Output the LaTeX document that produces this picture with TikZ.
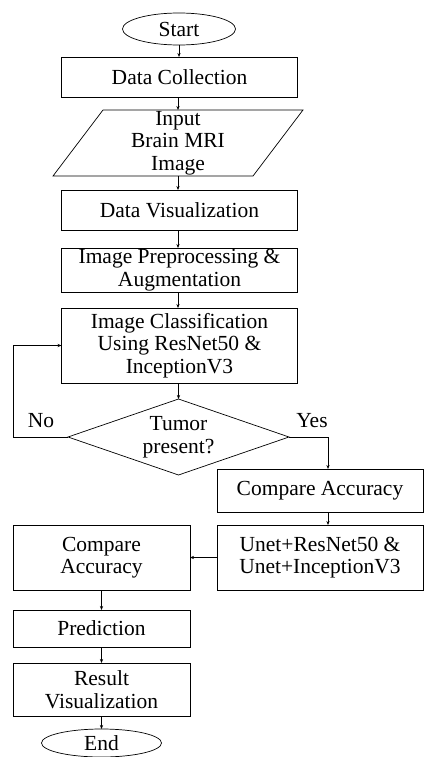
\documentclass[tikz,border=0pt]{standalone}
\usepackage{fontspec}
\setmainfont{Liberation Serif}
\usetikzlibrary{arrows.meta,shapes.geometric}
\begin{document}
\begin{tikzpicture}[x=1pt,y=-1pt,
  font=\fontsize{21.5}{22.5}\selectfont,
  every node/.style={inner sep=0pt,outer sep=0pt,align=center},
  box/.style={draw,line width=0.7pt,rectangle},
  oval/.style={draw,line width=0.7pt,ellipse},
  decision/.style={draw,line width=0.7pt,diamond,aspect=2.9},
  arr/.style={line width=0.7pt,-{Stealth[length=4pt,width=3.2pt]}},
  lbl/.style={}]
\useasboundingbox (0,0) rectangle (428,757);
% main column
\node[oval,minimum width=113,minimum height=32] (start) at (179,29) {Start};
\node[box,minimum width=236,minimum height=40] (dc) at (179.5,77) {Data Collection};
\node[minimum width=200,minimum height=66] (inp) at (178,143) {Input\\Brain MRI\\Image};
\draw[line width=0.7pt] ([xshift=25pt]inp.north west) -- ([xshift=25pt]inp.north east)
  -- ([xshift=-25pt]inp.south east) -- ([xshift=-25pt]inp.south west) -- cycle;
\node[box,minimum width=236,minimum height=40] (dv) at (179.5,210) {Data Visualization};
\node[box,minimum width=236,minimum height=44] (pre) at (179.5,270) {Image Preprocessing \&\\Augmentation};
\node[box,minimum width=236,minimum height=75] (cls) at (179.5,345.5) {Image Classification\\Using ResNet50 \&\\InceptionV3};
\node[draw,line width=0.7pt,
  shape=diamond,minimum width=221,minimum height=76,aspect=2.9] (dia) at (178.5,437) {};
\node at (178.5,437) {Tumor\\present?};
% right branch
\node[box,minimum width=206,minimum height=43] (cmp1) at (320,490.5) {Compare Accuracy};
\node[box,minimum width=206,minimum height=65] (unet) at (320,557.5) {Unet+ResNet50 \&\\Unet+InceptionV3};
% left column bottom
\node[box,minimum width=177,minimum height=65] (cmp2) at (101.5,557.5) {Compare\\Accuracy};
\node[box,minimum width=177,minimum height=37] (pred) at (101.5,628.5) {Prediction};
\node[box,minimum width=177,minimum height=53] (res) at (101.5,689.5) {Result\\Visualization};
\node[oval,minimum width=120,minimum height=28] (end) at (101.5,743) {End};
% labels
\node[lbl] (no) at (41,421) {No};
\node[lbl] (yes) at (312,421) {Yes};
\coordinate (fb) at (13,437);
% connectors
\draw[arr] (start) -- (start |- dc.north);
\draw[arr] (dc) -- (dc.south -| inp.north) -- (inp.north);
\draw[arr] (inp.south) -- (inp.south |- dv.north);
\draw[arr] (dv.south -| inp.south) -- (inp.south |- pre.north);
\draw[arr] (pre.south -| inp.south) -- (inp.south |- cls.north);
\draw[arr] (cls.south -| dia.north) -- (dia.north);
\draw[arr] (dia.west) -- (fb) |- (cls.west);
\draw[arr] (dia.east) -| ([xshift=8pt]cmp1.north);
\draw[arr] ([xshift=8pt]cmp1.south) -- ([xshift=8pt]unet.north);
\draw[arr] (unet.west) -- (cmp2.east);
\draw[arr] (cmp2) -- (pred);
\draw[arr] (pred) -- (res);
\draw[arr] (res) -- (end);
\end{tikzpicture}
\end{document}
